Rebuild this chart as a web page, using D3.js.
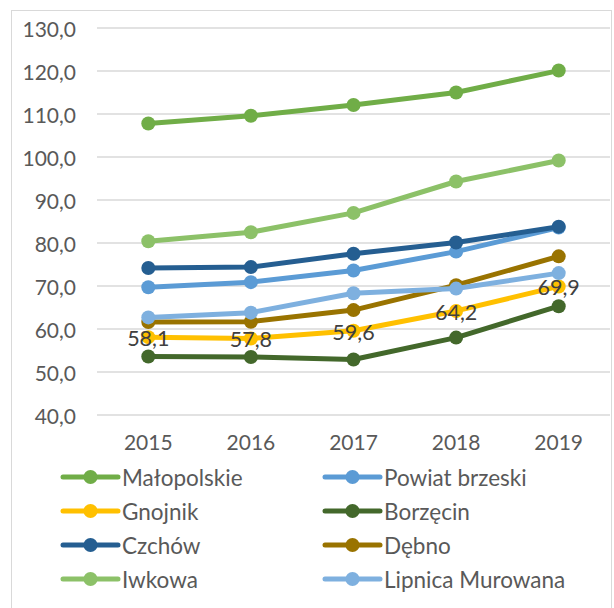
<!DOCTYPE html>
<html>
<head>
    <meta charset="utf-8">
    <title>Wykres liniowy</title>
    <script src="https://cdn.jsdelivr.net/npm/d3@7"></script>
    <style>
        body { margin: 0; background: #fff; }
        text { font-family: Lato, "Liberation Sans", sans-serif; fill: #595959; }
    </style>
</head>
<body>
<script>
    // dane
    var years = ["2015", "2016", "2017", "2018", "2019"];
    var seriesNames = ["Małopolskie", "Powiat brzeski", "Gnojnik", "Borzęcin",
                       "Czchów", "Dębno", "Iwkowa", "Lipnica Murowana"];
    var malopolskie = [107.8, 109.6, 112.1, 115.0, 120.1];
    var powiatBrzeski = [69.7, 70.9, 73.6, 78.0, 83.6];
    var gnojnik = [58.1, 57.8, 59.6, 64.2, 69.9];
    var borzecin = [53.6, 53.5, 52.9, 58.0, 65.3];
    var czchow = [74.2, 74.4, 77.5, 80.1, 83.8];
    var debno = [61.6, 61.7, 64.4, 70.2, 76.9];
    var iwkowa = [80.4, 82.5, 87.0, 94.3, 99.2];
    var lipnica = [62.7, 63.8, 68.3, 69.4, 73.0];
    var colors = ["#70AD47", "#5B9BD5", "#FFC000", "#43682B",
                  "#255E91", "#997300", "#8CC168", "#7EB0DF"];
    var yTicks = [40, 50, 60, 70, 80, 90, 100, 110, 120, 130];

    var allSeries = [malopolskie, powiatBrzeski, gnojnik, borzecin, czchow, debno, iwkowa, lipnica];

    var width = 614, height = 608;
    var svg = d3.select("body").append("svg")
        .attr("width", width)
        .attr("height", height);

    // ramka
    svg.append("rect")
        .attr("x", 11.5).attr("y", 10.5)
        .attr("width", 600).attr("height", 610)
        .attr("fill", "#fff")
        .attr("stroke", "#D9D9D9");

    var x = d3.scaleBand().domain(years).range([97, 610]);
    var y = d3.scaleLinear().domain([40, 130]).range([415, 28]);
    var fmt = function(v) { return d3.format(".1f")(v).replace(".", ","); };

    // siatka
    svg.append("g").selectAll("line").data(yTicks).join("line")
        .attr("x1", 97).attr("x2", 610)
        .attr("y1", d => y(d)).attr("y2", d => y(d))
        .attr("stroke", "#D9D9D9").attr("stroke-width", 1.3);

    svg.append("g").selectAll("text").data(yTicks).join("text")
        .attr("x", 76).attr("y", d => y(d))
        .attr("text-anchor", "end")
        .attr("dominant-baseline", "central")
        .attr("font-size", 21)
        .text(fmt);

    svg.append("g").selectAll("text").data(years).join("text")
        .attr("x", d => x(d) + x.bandwidth() / 2).attr("y", 441)
        .attr("text-anchor", "middle")
        .attr("dominant-baseline", "central")
        .attr("font-size", 21)
        .text(d => d);

    var cx = function(d, i) { return x(years[i]) + x.bandwidth() / 2; };
    var line = d3.line().x(cx).y(d => y(d));

    // serie
    allSeries.forEach(function(s, k) {
        var g = svg.append("g");
        g.append("path").datum(s)
            .attr("d", line)
            .attr("fill", "none")
            .attr("stroke", colors[k])
            .attr("stroke-width", 5)
            .attr("stroke-linejoin", "round");
        g.selectAll("circle").data(s).join("circle")
            .attr("cx", cx).attr("cy", d => y(d))
            .attr("r", 7)
            .attr("fill", colors[k]);
    });

    // etykiety danych Gnojnik
    svg.append("g").selectAll("text").data(gnojnik).join("text")
        .attr("x", cx).attr("y", d => y(d) + 1)
        .attr("text-anchor", "middle")
        .attr("dominant-baseline", "central")
        .attr("font-size", 21.5)
        .style("fill", "#404040")
        .text(fmt);

    // legenda
    var legend = svg.append("g").selectAll("g").data(seriesNames).join("g")
        .attr("transform", (d, i) => "translate(" + (i % 2 ? 325 : 63) + "," + (477 + Math.floor(i / 2) * 34) + ")");
    legend.append("line")
        .attr("x1", 0).attr("x2", 55)
        .attr("stroke", (d, i) => colors[i])
        .attr("stroke-width", 5)
        .attr("stroke-linecap", "round");
    legend.append("circle")
        .attr("cx", 27.5).attr("r", 7)
        .attr("fill", (d, i) => colors[i]);
    legend.append("text")
        .attr("x", 59)
        .attr("dominant-baseline", "central")
        .attr("font-size", 22.5)
        .text(d => d);
</script>
</body>
</html>
